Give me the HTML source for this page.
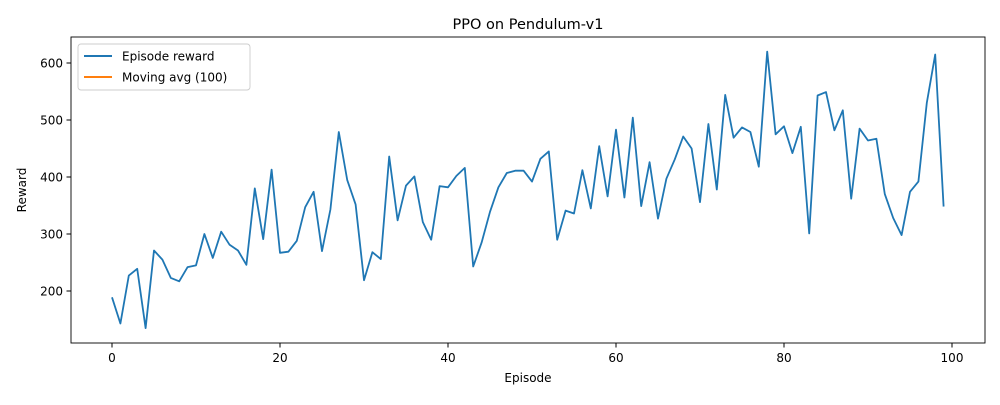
<!DOCTYPE html>
<html><head><meta charset="utf-8"><style>
body{margin:0;background:#fff;font-family:"Liberation Sans","DejaVu Sans",sans-serif;}
svg text{font-family:"DejaVu Sans","Liberation Sans",sans-serif;fill:#000;}
</style></head><body>
<svg id="chart" width="1000" height="400" viewBox="0 0 1000 400" xmlns="http://www.w3.org/2000/svg">
<rect x="0" y="0" width="1000" height="400" fill="#fff"/>
<text x="528" y="29" font-size="14.5" text-anchor="middle">PPO on Pendulum-v1</text>
<g id="ticks"></g>
<path id="reward-line" fill="none" stroke="#1f77b4" stroke-width="1.8" stroke-linejoin="round"/>
<rect x="71" y="37" width="914" height="306" fill="none" stroke="#000" stroke-width="0.9"/>
<text x="528" y="382" font-size="12" text-anchor="middle">Episode</text>
<text x="26" y="190" font-size="12" text-anchor="middle" transform="rotate(-90 26 190)">Reward</text>
<g>
<rect x="78" y="44" width="172" height="46" rx="3" fill="#fff" stroke="#ccc" stroke-width="0.9"/>
<line x1="84" y1="56" x2="112" y2="56" stroke="#1f77b4" stroke-width="2"/>
<text x="122" y="60.5" font-size="12">Episode reward</text>
<line x1="84" y1="77" x2="112" y2="77" stroke="#ff7f0e" stroke-width="2"/>
<text x="122" y="81.5" font-size="12">Moving avg (100)</text>
</g>
</svg>
<script>
const rewards = [189,143,227,239,135,271,255,223,217,242,245,300,258,304,281,271,246,380,291,413,267,269,288,347,374,270,343,479,395,352,219,268,256,436,324,385,401,321,290,384,382,402,416,243,285,339,382,407,411,411,392,432,445,290,341,336,412,345,454,366,483,364,504,349,426,327,397,431,471,450,356,493,378,544,469,487,479,418,620,475,489,442,488,301,543,549,482,517,362,485,464,467,370,328,298,374,392,530,615,348];
const xTicks = [0,20,40,60,80,100];
const yTicks = [200,300,400,500,600];
const xs = v => 112 + v*8.4;
const ys = v => 291 - (v-200)*0.57;
const NS = "http://www.w3.org/2000/svg";
const line = document.getElementById('reward-line');
line.setAttribute('d', rewards.map((r,i)=>(i?'L':'M')+xs(i).toFixed(1)+','+ys(r).toFixed(1)).join(''));
const g = document.getElementById('ticks');
xTicks.forEach(t=>{
  const l=document.createElementNS(NS,'line');
  l.setAttribute('x1',xs(t));l.setAttribute('x2',xs(t));l.setAttribute('y1',343);l.setAttribute('y2',347.5);l.setAttribute('stroke','#000');
  
  
  g.appendChild(l);
  const tx=document.createElementNS(NS,'text');
  tx.setAttribute('x',xs(t));tx.setAttribute('y',362);tx.setAttribute('font-size','12');tx.setAttribute('text-anchor','middle');
  tx.textContent=t;
  
  
  g.appendChild(tx);
});
yTicks.forEach(t=>{
  const l=document.createElementNS(NS,'line');
  l.setAttribute('x1',66.5);l.setAttribute('x2',71);l.setAttribute('y1',ys(t));l.setAttribute('y2',ys(t));l.setAttribute('stroke','#000');
  
  
  g.appendChild(l);
  const tx=document.createElementNS(NS,'text');
  tx.setAttribute('x',63);tx.setAttribute('y',ys(t)+4.5);tx.setAttribute('font-size','12');tx.setAttribute('text-anchor','end');
  tx.textContent=t;
  
  
  g.appendChild(tx);
});
</script>
</body></html>
